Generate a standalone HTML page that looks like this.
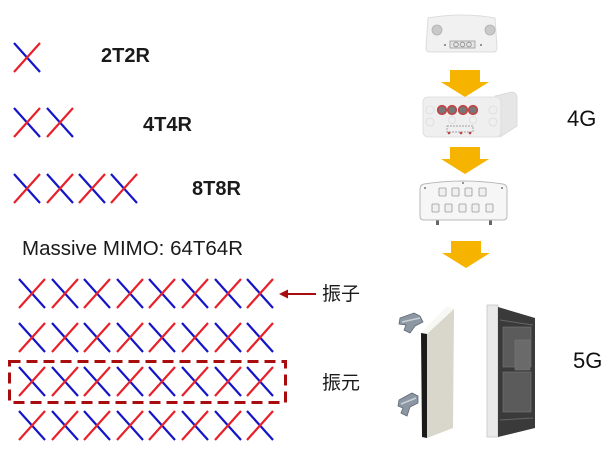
<!DOCTYPE html>
<html>
<head>
<meta charset="utf-8">
<style>
html,body{margin:0;padding:0;background:#fff;}
svg{display:block;}
.lbl{font-family:"Liberation Sans",sans-serif;font-weight:bold;font-size:20px;fill:#1a1a1a;}
.mm{font-family:"Liberation Sans",sans-serif;font-size:20.5px;fill:#1a1a1a;}
.g{font-family:"Liberation Sans",sans-serif;font-size:22px;fill:#111;}
.cn{font-family:"Liberation Sans","Noto Sans CJK SC",sans-serif;font-size:19px;fill:#1a1a1a;}
</style>
</head>
<body>
<svg width="616" height="460" viewBox="0 0 616 460" xmlns="http://www.w3.org/2000/svg">
<defs>
  <g id="x">
    <line x1="0" y1="0" x2="26" y2="29" stroke="#1414c8" stroke-width="2.2"/>
    <line x1="0" y1="29" x2="26" y2="0" stroke="#e8202a" stroke-width="2.2"/>
  </g>
  <g id="ya">
    <polygon points="9,0 39,0 39,12 48,12 24,27 0,12 9,12" fill="#f6b400"/>
  </g>
</defs>

<!-- top X rows -->
<use href="#x" x="14" y="43"/>
<use href="#x" x="14" y="108"/><use href="#x" x="47" y="108"/>
<use href="#x" x="14" y="174"/><use href="#x" x="47" y="174"/><use href="#x" x="79" y="174"/><use href="#x" x="111" y="174"/>

<text class="lbl" x="101" y="62">2T2R</text>
<text class="lbl" x="143" y="131">4T4R</text>
<text class="lbl" x="192" y="195">8T8R</text>

<text class="mm" x="22" y="255">Massive MIMO: 64T64R</text>

<!-- grid rows -->
<g>
<use href="#x" x="19" y="279"/><use href="#x" x="52" y="279"/><use href="#x" x="84" y="279"/><use href="#x" x="117" y="279"/><use href="#x" x="149" y="279"/><use href="#x" x="182" y="279"/><use href="#x" x="215" y="279"/><use href="#x" x="247" y="279"/>
<use href="#x" x="19" y="323"/><use href="#x" x="52" y="323"/><use href="#x" x="84" y="323"/><use href="#x" x="117" y="323"/><use href="#x" x="149" y="323"/><use href="#x" x="182" y="323"/><use href="#x" x="215" y="323"/><use href="#x" x="247" y="323"/>
<use href="#x" x="19" y="367"/><use href="#x" x="52" y="367"/><use href="#x" x="84" y="367"/><use href="#x" x="117" y="367"/><use href="#x" x="149" y="367"/><use href="#x" x="182" y="367"/><use href="#x" x="215" y="367"/><use href="#x" x="247" y="367"/>
<use href="#x" x="19" y="411"/><use href="#x" x="52" y="411"/><use href="#x" x="84" y="411"/><use href="#x" x="117" y="411"/><use href="#x" x="149" y="411"/><use href="#x" x="182" y="411"/><use href="#x" x="215" y="411"/><use href="#x" x="247" y="411"/>
</g>

<!-- dashed box -->
<rect x="9.5" y="361.5" width="276" height="41" fill="none" stroke="#a80c0c" stroke-width="3" stroke-dasharray="11 6"/>

<!-- arrow to 振子 -->
<line x1="286" y1="294" x2="316" y2="294" stroke="#a80c0c" stroke-width="2"/>
<polygon points="279,294 288,289.5 288,298.5" fill="#a80c0c"/>
<text class="cn" x="322" y="300">振子</text>
<text class="cn" x="322" y="389">振元</text>

<!-- Device 1 -->
<path d="M428,18 Q462,12 495,18 L497,48 Q497,52 493,52 L430,52 Q426,52 426,48 Z" fill="#f1f1f1" stroke="#dcdcdc" stroke-width="1"/>
<circle cx="437" cy="30" r="5" fill="#c9c9c9" stroke="#b0b0b0" stroke-width="0.8"/>
<circle cx="490" cy="30" r="5" fill="#c9c9c9" stroke="#b0b0b0" stroke-width="0.8"/>
<rect x="450" y="41" width="25" height="7" fill="#e4e4e4" stroke="#999" stroke-width="0.8"/>
<circle cx="456" cy="44.5" r="2.3" fill="none" stroke="#888" stroke-width="0.8"/>
<circle cx="462.5" cy="44.5" r="2.3" fill="none" stroke="#888" stroke-width="0.8"/>
<circle cx="469" cy="44.5" r="2.3" fill="none" stroke="#888" stroke-width="0.8"/>
<circle cx="445" cy="45" r="1" fill="#777"/><circle cx="481" cy="45" r="1" fill="#777"/>

<!-- arrow 1 -->
<use href="#ya" x="441" y="70"/>

<!-- Device 2 -->
<path d="M495,96 L512,92 Q518,93 517,100 L517,126 L500,137 Z" fill="#e6e6e6" stroke="#d6d6d6" stroke-width="0.8"/>
<rect x="423" y="97" width="78" height="40" rx="5" fill="#efefef" stroke="#dadada" stroke-width="0.8"/>
<g fill="#777" stroke="#c44040" stroke-width="1.6">
<circle cx="442" cy="110" r="4.3"/><circle cx="452" cy="110" r="4.3"/><circle cx="463" cy="110" r="4.3"/><circle cx="473" cy="110" r="4.3"/>
</g>
<g fill="none" stroke="#dcdcdc" stroke-width="0.8">
<circle cx="430" cy="110" r="4"/><circle cx="430" cy="122" r="4"/><circle cx="493" cy="110" r="4"/><circle cx="493" cy="122" r="4"/><circle cx="452" cy="120" r="3.5"/><circle cx="473" cy="120" r="3.5"/>
</g>
<rect x="447" y="126" width="26" height="6" fill="none" stroke="#888" stroke-width="0.7" stroke-dasharray="2 1"/>
<circle cx="449" cy="133" r="1.3" fill="#c44040"/><circle cx="461" cy="133" r="1.3" fill="#c44040"/><circle cx="470" cy="133" r="1.3" fill="#c44040"/>

<!-- arrow 2 -->
<use href="#ya" x="441" y="147"/>

<!-- Device 3 -->
<rect x="436" y="219" width="3" height="6" fill="#666"/>
<rect x="489" y="219" width="3" height="6" fill="#666"/>
<path d="M424,184 Q463,178 503,184 Q507,185 507,189 L507,216 Q507,220 503,220 L424,220 Q420,220 420,216 L420,189 Q420,185 424,184 Z" fill="#f6f6f6" stroke="#b8b8b8" stroke-width="1"/>
<g fill="#f0f0f0" stroke="#9a9a9a" stroke-width="0.8">
<rect x="439" y="188" width="7" height="8" rx="1"/><rect x="452" y="188" width="7" height="8" rx="1"/><rect x="465" y="188" width="7" height="8" rx="1"/><rect x="479" y="188" width="7" height="8" rx="1"/>
<rect x="432" y="204" width="7" height="8" rx="1"/><rect x="445" y="204" width="7" height="8" rx="1"/><rect x="459" y="204" width="7" height="8" rx="1"/><rect x="472" y="204" width="7" height="8" rx="1"/><rect x="486" y="204" width="7" height="8" rx="1"/>
</g>
<circle cx="463" cy="183" r="1" fill="#777"/><circle cx="425" cy="188" r="1" fill="#777"/><circle cx="502" cy="188" r="1" fill="#777"/>

<!-- arrow 3 -->
<use href="#ya" x="442" y="241"/>

<!-- 4G / 5G -->
<text class="g" x="567" y="126">4G</text>
<text class="g" x="573" y="368">5G</text>

<!-- 5G left panel -->
<polygon points="421,333 447,306 454,309 427,334" fill="#f7f7f4"/>
<polygon points="421,333 427,334 427,438 422,437" fill="#1a1a1a"/>
<polygon points="427,334 454,309 453,428 427,438" fill="#d9d6cb"/>
<!-- brackets -->
<g fill="#8d97a3" stroke="#5e6873" stroke-width="0.8">
<path d="M400,318 L414,313 L420,316 L423,322 L415,326 L410,333 L404,330 L406,325 L399,324 Z"/>
<path d="M399,400 L412,393 L418,396 L418,403 L410,407 L407,416 L401,413 L403,408 L398,406 Z"/>
</g>
<line x1="402" y1="322" x2="420" y2="318" stroke="#c9d0d8" stroke-width="1.5"/>
<line x1="401" y1="404" x2="416" y2="398" stroke="#c9d0d8" stroke-width="1.5"/>

<!-- 5G right device -->
<rect x="487" y="305" width="11" height="132" fill="#e9e9e9" stroke="#c6c6c6" stroke-width="0.8"/>
<polygon points="498,307 535,318 535,428 498,437" fill="#3a3a3a"/>
<g fill="#5b5b5b" stroke="#777" stroke-width="0.6">
<rect x="503" y="327" width="28" height="40"/>
<rect x="503" y="372" width="28" height="40"/>
<rect x="515" y="340" width="15" height="30" fill="#6a6a6a"/>
</g>
<line x1="500" y1="320" x2="533" y2="325" stroke="#666" stroke-width="1"/>
<line x1="500" y1="420" x2="533" y2="418" stroke="#666" stroke-width="1"/>
</svg>
</body>
</html>
